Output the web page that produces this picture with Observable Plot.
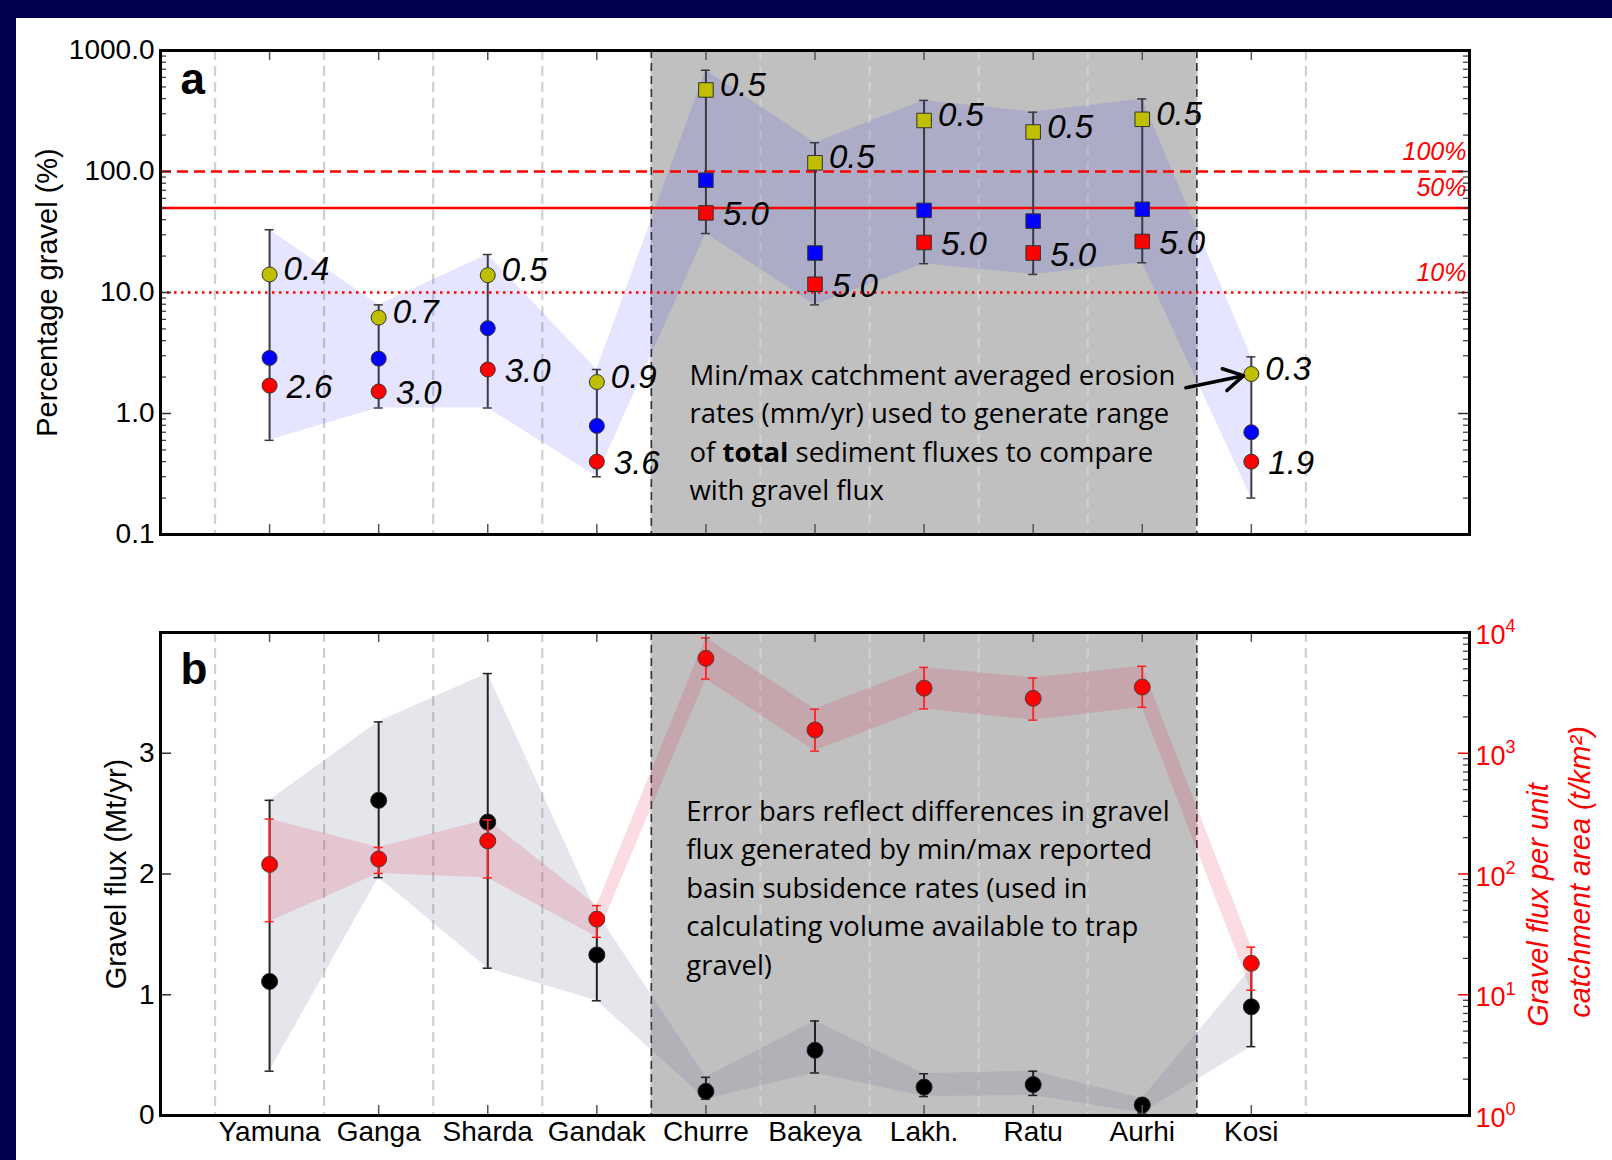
<!DOCTYPE html>
<html><head><meta charset="utf-8">
<script src="https://cdn.jsdelivr.net/npm/d3@7"></script>
<script src="https://cdn.jsdelivr.net/npm/@observablehq/plot@0.6"></script>
<style>
html,body{margin:0;padding:0;background:#000050;width:1612px;height:1160px;overflow:hidden;}
#panel{position:absolute;left:16px;top:18px;right:0;bottom:0;background:#fff;}
#a,#b{position:absolute;left:0;}
#a{top:0px;} #b{top:590px;}
</style></head><body>
<div id="panel"></div>
<div id="a"></div><div id="b"></div>
<script>
// ---------------- data ----------------
const rivers = ["Yamuna","Ganga","Sharda","Gandak","Churre","Bakeya","Lakh.","Ratu","Aurhi","Kosi"];
const squareRivers = ["Churre","Bakeya","Lakh.","Ratu","Aurhi"];

// panel a: percentage gravel (%)
const pctAtMinErosion = [14.1, 6.2, 13.9, 1.82, 472, 118, 264, 212, 270, 2.12];
const pctMean         = [2.88, 2.84, 5.07, 0.79, 84.7, 21.2, 47.7, 38.9, 48.7, 0.70];
const pctAtMaxErosion = [1.70, 1.52, 2.31, 0.40, 45.5, 11.7, 25.9, 21.2, 26.4, 0.40];
const pctErrHigh      = [33, 7.9, 20.6, 2.31, 687, 173, 387, 309, 398, 2.94];
const pctErrLow       = [0.60, 1.11, 1.11, 0.30, 30.7, 7.9, 17.3, 14.1, 17.6, 0.20];
const erosionMin = [0.4, 0.7, 0.5, 0.9, 0.5, 0.5, 0.5, 0.5, 0.5, 0.3];
const erosionMax = [2.6, 3.0, 3.0, 3.6, 5.0, 5.0, 5.0, 5.0, 5.0, 1.9];
const thresholds = [100, 50, 10];
const pctTicks = [0.1, 1, 10, 100, 1000];

// panel b: gravel flux (Mt/yr) and flux per unit area (t/km2)
const gravelFlux     = [1.11, 2.61, 2.43, 1.33, 0.20, 0.54, 0.235, 0.256, 0.087, 0.90];
const gravelFluxHigh = [2.61, 3.26, 3.66, 1.68, 0.316, 0.783, 0.346, 0.367, 0.14, 1.22];
const gravelFluxLow  = [0.367, 1.97, 1.22, 0.95, 0.135, 0.352, 0.157, 0.166, 0.02, 0.57];
const fluxPerArea     = [120, 133, 188, 42.3, 6110, 1560, 3460, 2850, 3530, 18.2];
const fluxPerAreaHigh = [285, 166, 281, 54.7, 9010, 2314, 5140, 4200, 5250, 24.8];
const fluxPerAreaLow  = [40.3, 101, 92.7, 29.9, 4110, 1042, 2330, 1880, 2400, 10.9];
const fluxTicks = [0, 1, 2, 3];
const areaExponents = [0, 1, 2, 3, 4];

const noteA = "Min/max catchment averaged erosion\nrates (mm/yr) used to generate range\nof total sediment fluxes to compare\nwith gravel flux";
const noteB = "Error bars reflect differences in gravel\nflux generated by min/max reported\nbasin subsidence rates (used in\ncalculating volume available to trap\ngravel)";

// ---------------- layout ----------------
const W = 1612, ML = 160, MR = 143;
const A = {h: 580, mt: 50, mb: 46};
const B = {h: 570, mt: 42, mb: 45};
const xDomain = [0, rivers.length + 2];
const pxPerX = (W - ML - MR) / (xDomain[1] - xDomain[0]);
const aDecades = 4, pxPerDecA = (A.h - A.mt - A.mb) / aDecades;
const pxPerUnitB = (B.h - B.mt - B.mb) / 4;

const xs = rivers.map((_, i) => i + 1);
const shadeX1 = rivers.indexOf(squareRivers[0]) + 1 - 0.5;
const shadeX2 = rivers.indexOf(squareRivers[squareRivers.length - 1]) + 1 + 0.5;
const boundaries = d3.range(0.5, rivers.length + 1, 1);
const cap = 4.5 / pxPerX;

const rowsA = rivers.map((r, i) => ({x: i + 1, r, sq: squareRivers.includes(r),
  lo: pctErrLow[i], hi: pctErrHigh[i], yMin: pctAtMinErosion[i], yMean: pctMean[i], yMax: pctAtMaxErosion[i],
  eMin: erosionMin[i], eMax: erosionMax[i]}));
const rowsB = rivers.map((r, i) => ({x: i + 1, r,
  g: gravelFlux[i], gLo: gravelFluxLow[i], gHi: gravelFluxHigh[i],
  f: Math.log10(fluxPerArea[i]), fLo: Math.log10(fluxPerAreaLow[i]), fHi: Math.log10(fluxPerAreaHigh[i])}));

const minorA = [];
for (const d of [0.1, 1, 10, 100]) for (let k = 2; k <= 9; k++) minorA.push(d * k);
const minorB = [];
for (let n = 0; n < 4; n++) for (let k = 2; k <= 9; k++) minorB.push(Math.log10(k * Math.pow(10, n)));

const style = {fontFamily: "'Liberation Sans', Arial, sans-serif", fontSize: "28px", background: "transparent", overflow: "visible", color: "black"};
const tickStroke = "#333";
const xMaj = 11 / pxPerX, xMin = 6 / pxPerX;
const fA = Math.pow(10, 10 / pxPerDecA);
const yB = 10 / pxPerUnitB;
const noteFont = "'Open Sans', 'Liberation Sans', sans-serif";

// ---------------- panel a ----------------
const circA = rowsA.filter(d => !d.sq), sqA = rowsA.filter(d => d.sq);
const kosi = rowsA[rowsA.length - 1];
const plotA = Plot.plot({
  width: W, height: A.h, marginLeft: ML, marginRight: MR, marginTop: A.mt, marginBottom: A.mb,
  x: {domain: xDomain, axis: null},
  y: {type: "log", domain: [0.1, 1000], axis: null},
  style,
  marks: [
    Plot.rect([0], {x1: shadeX1, x2: shadeX2, y1: 0.1, y2: 1000, fill: "#c0c0c0"}),
    Plot.ruleX(boundaries, {x: d => d, stroke: "#d0d0d0", strokeWidth: 2.2, strokeDasharray: "10,6"}),
    Plot.ruleX([shadeX1, shadeX2], {x: d => d, stroke: "#333", strokeWidth: 1.6, strokeDasharray: "8,5"}),
    Plot.areaY(rowsA, {x: "x", y1: "lo", y2: "hi", fill: "blue", fillOpacity: 0.1, curve: "linear"}),
    Plot.ruleY([thresholds[0]], {y: d => d, stroke: "red", strokeWidth: 2.5, strokeDasharray: "11,6"}),
    Plot.ruleY([thresholds[1]], {y: d => d, stroke: "red", strokeWidth: 2.5}),
    Plot.ruleY([thresholds[2]], {y: d => d, stroke: "red", strokeWidth: 2.3, strokeDasharray: "2.5,4.5"}),
    Plot.text(thresholds, {x: xDomain[1], y: d => d, text: d => d + "%", textAnchor: "end", lineAnchor: "bottom", dx: -3, dy: -12, fill: "red", fontStyle: "italic", fontSize: 25}),
    Plot.ruleX(rowsA, {x: "x", y1: "lo", y2: "hi", stroke: "#3a3a44", strokeWidth: 2}),
    Plot.ruleY(rowsA, {y: "hi", x1: d => d.x - cap, x2: d => d.x + cap, stroke: "#3a3a44", strokeWidth: 1.5}),
    Plot.ruleY(rowsA, {y: "lo", x1: d => d.x - cap, x2: d => d.x + cap, stroke: "#3a3a44", strokeWidth: 1.5}),
    Plot.dot(circA, {x: "x", y: "yMin", r: 7.5, fill: "#bfbf00", stroke: "#333", strokeWidth: 1}),
    Plot.dot(circA, {x: "x", y: "yMean", r: 7.5, fill: "#0000ff", stroke: "#333", strokeWidth: 1}),
    Plot.dot(circA, {x: "x", y: "yMax", r: 7.5, fill: "#ff0000", stroke: "#333", strokeWidth: 1}),
    Plot.dot(sqA, {x: "x", y: "yMin", r: 8.2, symbol: "square", fill: "#bfbf00", stroke: "#333", strokeWidth: 1}),
    Plot.dot(sqA, {x: "x", y: "yMean", r: 8.2, symbol: "square", fill: "#0000ff", stroke: "#333", strokeWidth: 1}),
    Plot.dot(sqA, {x: "x", y: "yMax", r: 8.2, symbol: "square", fill: "#ff0000", stroke: "#333", strokeWidth: 1}),
    Plot.text(rowsA, {x: "x", y: "yMin", text: d => d.eMin.toFixed(1), textAnchor: "start", dx: 14, dy: -5, fontStyle: "italic", fontSize: 33}),
    Plot.text(rowsA, {x: "x", y: "yMax", text: d => d.eMax.toFixed(1), textAnchor: "start", dx: 17, dy: 2, fontStyle: "italic", fontSize: 33}),
    Plot.text([noteA], {x: shadeX1 + 0.35, frameAnchor: "bottom", lineAnchor: "bottom", dy: -34.5, textAnchor: "start", text: d => d, fontFamily: noteFont, fontSize: 27.5, lineHeight: 1.4}),
    Plot.arrow([kosi], {x1: shadeX2 - 0.1, y1: 1.63, x2: "x", y2: "yMin", stroke: "black", strokeWidth: 3.5, headLength: 14, insetEnd: 8}),
    // ticks
    Plot.ruleY(pctTicks, {y: d => d, x1: xDomain[0], x2: xDomain[0] + xMaj, stroke: tickStroke, strokeWidth: 1.5}),
    Plot.ruleY(minorA, {y: d => d, x1: xDomain[0], x2: xDomain[0] + xMin, stroke: tickStroke, strokeWidth: 1.2}),
    Plot.ruleY(pctTicks, {y: d => d, x1: xDomain[1] - xMaj, x2: xDomain[1], stroke: tickStroke, strokeWidth: 1.5}),
    Plot.ruleY(minorA, {y: d => d, x1: xDomain[1] - xMin, x2: xDomain[1], stroke: tickStroke, strokeWidth: 1.2}),
    Plot.ruleX(xs, {x: d => d, y1: 0.1, y2: 0.1 * fA, stroke: "#555", strokeWidth: 1.5}),
    Plot.ruleX(xs, {x: d => d, y1: 1000 / fA, y2: 1000, stroke: "#555", strokeWidth: 1.5}),
    Plot.frame({stroke: "black", strokeWidth: 3}),
    Plot.text(pctTicks, {x: xDomain[0], y: d => d, text: d => d.toFixed(1), textAnchor: "end", dx: -6, fontSize: 28}),
    Plot.text(["Percentage gravel (%)"], {frameAnchor: "left", textAnchor: "middle", dx: -113, rotate: -90, text: d => d, fontSize: 29}),
    Plot.text(["a"], {frameAnchor: "top-left", dx: 20, dy: 12, lineAnchor: "top", textAnchor: "start", text: d => d, fontWeight: "bold", fontSize: 44})
  ]
});

// ---------------- panel b ----------------
const plotB = Plot.plot({
  width: W, height: B.h, marginLeft: ML, marginRight: MR, marginTop: B.mt, marginBottom: B.mb,
  x: {domain: xDomain, axis: null},
  y: {domain: [0, 4], axis: null},
  style,
  marks: [
    Plot.rect([0], {x1: shadeX1, x2: shadeX2, y1: 0, y2: 4, fill: "#c0c0c0"}),
    Plot.ruleX(boundaries, {x: d => d, stroke: "#d0d0d0", strokeWidth: 2.2, strokeDasharray: "10,6"}),
    Plot.ruleX([shadeX1, shadeX2], {x: d => d, stroke: "#333", strokeWidth: 1.6, strokeDasharray: "8,5"}),
    Plot.areaY(rowsB, {x: "x", y1: "gLo", y2: "gHi", fill: "rgb(110,110,150)", fillOpacity: 0.18, curve: "linear"}),
    Plot.areaY(rowsB, {x: "x", y1: "fLo", y2: "fHi", fill: "crimson", fillOpacity: 0.15, curve: "linear"}),
    Plot.ruleX(rowsB, {x: "x", y1: "gLo", y2: "gHi", stroke: "#222", strokeWidth: 2}),
    Plot.ruleY(rowsB, {y: "gHi", x1: d => d.x - cap, x2: d => d.x + cap, stroke: "#222", strokeWidth: 1.5}),
    Plot.ruleY(rowsB, {y: "gLo", x1: d => d.x - cap, x2: d => d.x + cap, stroke: "#222", strokeWidth: 1.5}),
    Plot.dot(rowsB, {x: "x", y: "g", r: 8, fill: "black", stroke: "#222", strokeWidth: 1}),
    Plot.ruleX(rowsB, {x: "x", y1: "fLo", y2: "fHi", stroke: "#ff2020", strokeWidth: 1.8}),
    Plot.ruleY(rowsB, {y: "fHi", x1: d => d.x - cap, x2: d => d.x + cap, stroke: "#ff2020", strokeWidth: 1.5}),
    Plot.ruleY(rowsB, {y: "fLo", x1: d => d.x - cap, x2: d => d.x + cap, stroke: "#ff2020", strokeWidth: 1.5}),
    Plot.dot(rowsB, {x: "x", y: "f", r: 8, fill: "#ff0000", stroke: "#444", strokeWidth: 1}),
    Plot.text([noteB], {x: shadeX1 + 0.32, frameAnchor: "bottom", lineAnchor: "bottom", dy: -141, textAnchor: "start", text: d => d, fontFamily: noteFont, fontSize: 27.5, lineHeight: 1.4}),
    // ticks
    Plot.ruleY(fluxTicks, {y: d => d, x1: xDomain[0], x2: xDomain[0] + xMaj, stroke: tickStroke, strokeWidth: 1.5}),
    Plot.ruleY(areaExponents, {y: d => d, x1: xDomain[1] - xMaj, x2: xDomain[1], stroke: "red", strokeWidth: 1.5}),
    Plot.ruleY(minorB, {y: d => d, x1: xDomain[1] - xMin, x2: xDomain[1], stroke: tickStroke, strokeWidth: 1.2}),
    Plot.ruleX(xs, {x: d => d, y1: 0, y2: yB, stroke: "#555", strokeWidth: 1.5}),
    Plot.ruleX(xs, {x: d => d, y1: 4 - yB, y2: 4, stroke: "#555", strokeWidth: 1.5}),
    Plot.frame({stroke: "black", strokeWidth: 3}),
    Plot.text(fluxTicks, {x: xDomain[0], y: d => d, text: d => String(d), textAnchor: "end", dx: -6, fontSize: 28}),
    Plot.text(areaExponents, {x: xDomain[1], y: d => d, text: () => "10", textAnchor: "start", dx: 6, dy: 3, fill: "red", fontSize: 27}),
    Plot.text(areaExponents, {x: xDomain[1], y: d => d, text: d => String(d), textAnchor: "start", dx: 36, dy: -6, fill: "red", fontSize: 18}),
    Plot.text(rowsB, {x: "x", frameAnchor: "bottom", text: "r", lineAnchor: "top", dy: 6, fontSize: 28}),
    Plot.text(["Gravel flux (Mt/yr)"], {frameAnchor: "left", textAnchor: "middle", dx: -43.5, rotate: -90, text: d => d, fontSize: 29}),
    Plot.text(["Gravel flux per unit"], {frameAnchor: "right", textAnchor: "middle", dx: 69, dy: 31, rotate: -90, text: d => d, fill: "red", fontStyle: "italic", fontSize: 29}),
    Plot.text(["catchment area (t/km\u00b2)"], {frameAnchor: "right", textAnchor: "middle", dx: 111, dy: -2, rotate: -90, text: d => d, fill: "red", fontStyle: "italic", fontSize: 29}),
    Plot.text(["b"], {frameAnchor: "top-left", dx: 20, dy: 20, lineAnchor: "top", textAnchor: "start", text: d => d, fontWeight: "bold", fontSize: 44})
  ]
});

document.getElementById("a").appendChild(plotA);
document.getElementById("b").appendChild(plotB);

// bold "total" in the annotation
const ns = "http://www.w3.org/2000/svg";
plotA.querySelectorAll("tspan, text").forEach(t => {
  if (t.childElementCount === 0 && t.textContent === "of total sediment fluxes to compare") {
    t.textContent = "";
    const b = document.createElementNS(ns, "tspan");
    b.setAttribute("font-weight", "bold");
    b.textContent = "total";
    t.append(document.createTextNode("of "), b, document.createTextNode(" sediment fluxes to compare"));
  }
});
</script></body></html>
